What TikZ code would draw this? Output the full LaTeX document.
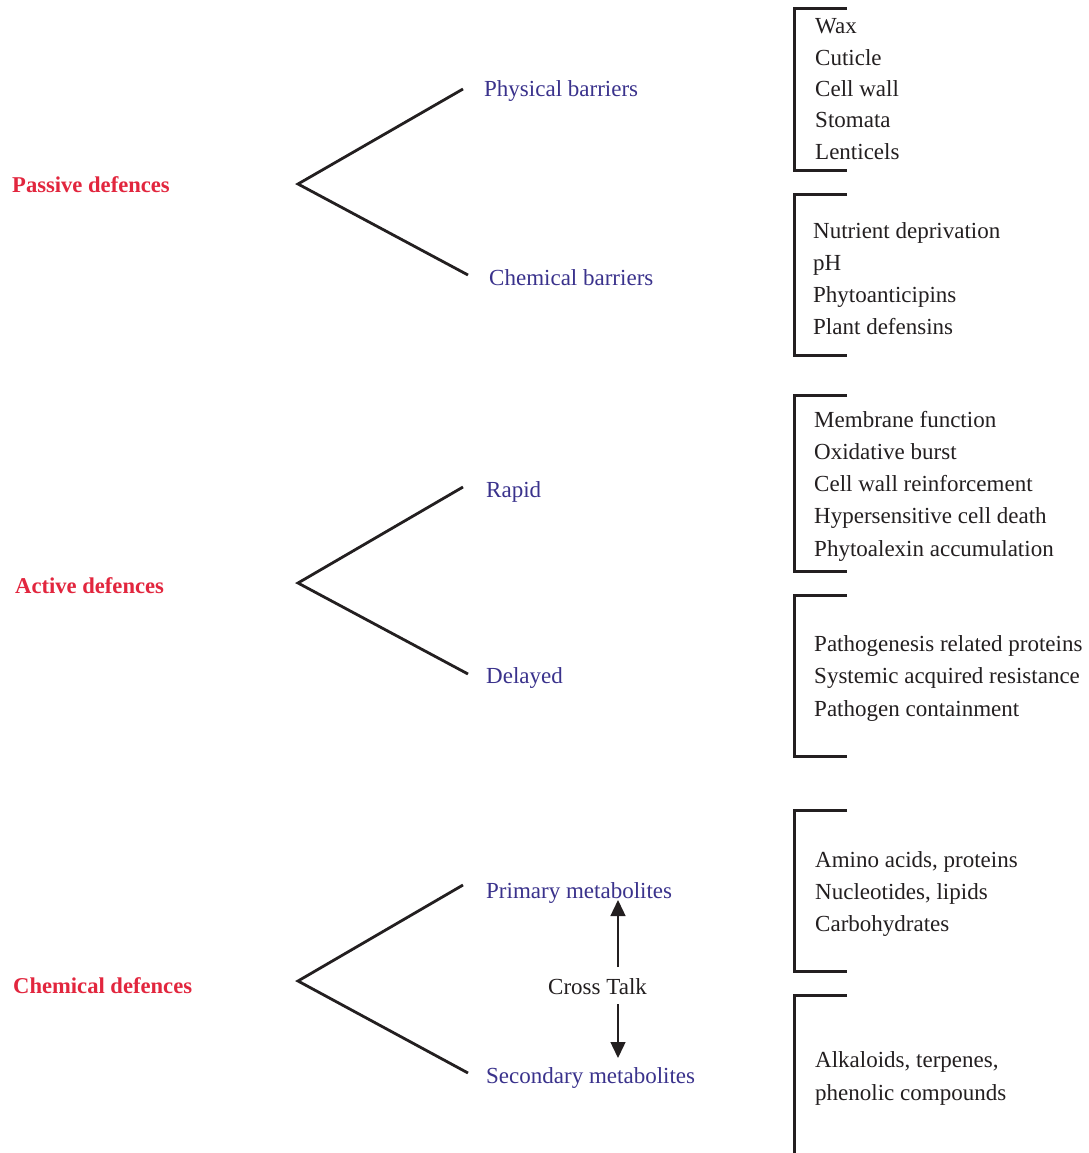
\documentclass[tikz,border=0pt]{standalone}
\usepackage{fontspec}
\setmainfont{Liberation Serif}
\usetikzlibrary{arrows.meta}
\definecolor{groupred}{RGB}{226,38,62}
\definecolor{subblue}{RGB}{58,50,140}
\definecolor{inkgray}{RGB}{35,31,32}
\tikzset{
  grouplabel/.style={anchor=base west, inner sep=0pt, text=groupred, font=\fontsize{22.6}{27}\selectfont\bfseries},
  sublabel/.style={anchor=base west, inner sep=0pt, text=subblue, font=\fontsize{23}{27}\selectfont},
  item/.style={anchor=base west, inner sep=0pt, text=inkgray, font=\fontsize{23}{27}\selectfont},
  branch/.style={draw=inkgray, line width=2.8pt},
  bracketline/.style={draw=inkgray, line width=3pt},
  crossarrow/.style={draw=inkgray, line width=1.4pt, -{Triangle[length=16pt,width=15pt]}}
}
\begin{document}
\begin{tikzpicture}[x=1pt,y=-1pt]
\useasboundingbox[fill=white] (0,0) rectangle (1088,1153);

% --- main groups
\node[grouplabel] (passive) at (12,192) {Passive defences};
\node[grouplabel] (active) at (15,593) {Active defences};
\node[grouplabel] (chemical) at (13,993) {Chemical defences};

% --- sub-groups
\node[sublabel] (physical) at (484,97) {Physical barriers};
\node[sublabel] (chembar) at (489,285) {Chemical barriers};
\node[sublabel] (rapid) at (486,497) {Rapid};
\node[sublabel] (delayed) at (486,683) {Delayed};
\node[sublabel] (primary) at (486,898) {Primary metabolites};
\node[sublabel] (secondary) at (486,1083) {Secondary metabolites};

% --- branching lines
\coordinate (apexA) at (298,184);
\coordinate (endA1) at (463,89);
\coordinate (endA2) at (468,275);
\coordinate (apexB) at (298,583);
\coordinate (endB1) at (463,487);
\coordinate (endB2) at (468,674);
\coordinate (apexC) at (298,981);
\coordinate (endC1) at (463,885);
\coordinate (endC2) at (468,1073);
\draw[branch] (endA1) -- (apexA) -- (endA2);
\draw[branch] (endB1) -- (apexB) -- (endB2);
\draw[branch] (endC1) -- (apexC) -- (endC2);

% --- cross talk between metabolite classes
\node[item] (cross) at (548,994) {Cross Talk};
\coordinate (upstart) at (618,967);
\coordinate (uptip) at (618,900);
\coordinate (downstart) at (618,1004);
\coordinate (downtip) at (618,1058);
\draw[crossarrow] (upstart) -- (uptip);
\draw[crossarrow] (downstart) -- (downtip);

% --- brackets
\draw[bracketline] (847,9) -- (794,9) -- (794,170) -- (847,170);
\draw[bracketline] (847,194) -- (794,194) -- (794,355) -- (847,355);
\draw[bracketline] (847,395) -- (794,395) -- (794,571) -- (847,571);
\draw[bracketline] (847,595) -- (794,595) -- (794,756) -- (847,756);
\draw[bracketline] (847,810) -- (794,810) -- (794,971) -- (847,971);
\draw[bracketline] (847,995) -- (794,995) -- (794,1160);

% --- bracket contents
\foreach \t [count=\i] in {Wax,Cuticle,Cell wall,Stomata,Lenticels}
  \node[item] (phys-\i) at (815,{34+31.3*(\i-1)}) {\t};
\foreach \t [count=\i] in {Nutrient deprivation,pH,Phytoanticipins,Plant defensins}
  \node[item] (chem-\i) at (813,{238+32.3*(\i-1)}) {\t};
\foreach \t [count=\i] in {Membrane function,Oxidative burst,Cell wall reinforcement,Hypersensitive cell death,Phytoalexin accumulation}
  \node[item] (rap-\i) at (814,{427+32.3*(\i-1)}) {\t};
\foreach \t [count=\i] in {Pathogenesis related proteins,Systemic acquired resistance,Pathogen containment}
  \node[item] (del-\i) at (814,{651+32.5*(\i-1)}) {\t};
\foreach \t [count=\i] in {{Amino acids, proteins},{Nucleotides, lipids},Carbohydrates}
  \node[item] (prim-\i) at (815,{867+32*(\i-1)}) {\t};
\foreach \t [count=\i] in {{Alkaloids, terpenes,},phenolic compounds}
  \node[item] (sec-\i) at (815,{1067+33*(\i-1)}) {\t};
\end{tikzpicture}
\end{document}
